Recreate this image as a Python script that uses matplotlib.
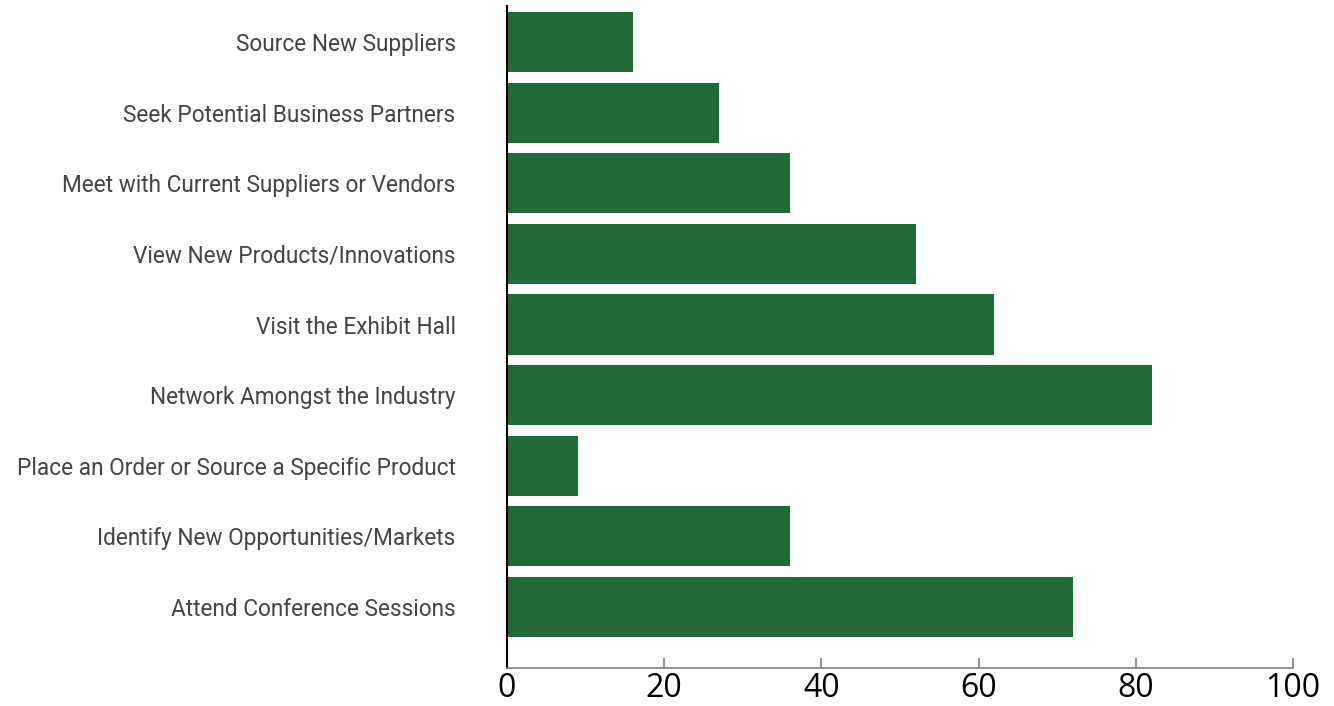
import matplotlib
matplotlib.use("Agg")
import matplotlib.pyplot as plt

# categories listed bottom to top
categories = [
    "Attend Conference Sessions",
    "Identify New Opportunities/Markets",
    "Place an Order or Source a Specific Product",
    "Network Amongst the Industry",
    "Visit the Exhibit Hall",
    "View New Products/Innovations",
    "Meet with Current Suppliers or Vendors",
    "Seek Potential Business Partners",
    "Source New Suppliers",
]
values = [72, 36, 9, 82, 62, 52, 36, 27, 16]
x_ticks = [0, 20, 40, 60, 80, 100]

BAR_COLOR = "#226938"


def main():
    fig = plt.figure(figsize=(13.34, 7.06), dpi=100)
    ax = fig.add_axes([0.380, 0.0538, 0.5893, 0.9377])

    ax.barh(range(len(categories)), values, height=0.85, color=BAR_COLOR)

    ax.set_xlim(0, 100)
    ax.set_ylim(-0.864, 8.51)
    ax.set_xticks(x_ticks)
    ax.set_yticks(range(len(categories)))
    ax.set_yticklabels(categories, family=["Roboto", "DejaVu Sans"],
                       fontsize=16.3, color="#454545")

    ax.tick_params(axis="y", length=0, pad=37)
    ax.tick_params(axis="x", direction="in", length=7, width=1.2, color="#808080",
                   labelsize=23, labelcolor="black", pad=3)
    for lbl in ax.get_xticklabels():
        lbl.set_family(["Open Sans", "DejaVu Sans"])

    for side in ("top", "right"):
        ax.spines[side].set_visible(False)
    ax.spines["left"].set_color("black")
    ax.spines["left"].set_linewidth(1.5)
    ax.spines["bottom"].set_color("#808080")
    ax.spines["bottom"].set_linewidth(1.2)

    fig.savefig("out.png", dpi=100)


if __name__ == "__main__":
    main()
